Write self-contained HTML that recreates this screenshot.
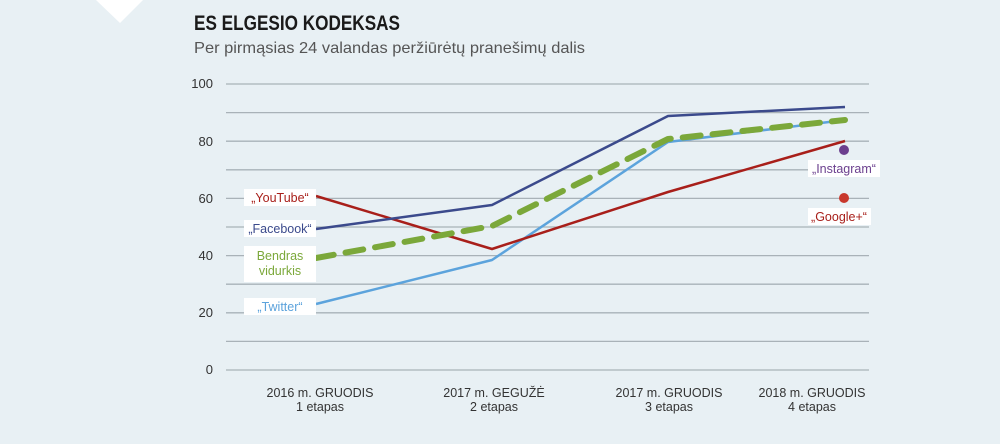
<!DOCTYPE html>
<html><head><meta charset="utf-8"><style>
html,body{margin:0;padding:0;background:#e8f0f4;}
svg{display:block;font-family:"Liberation Sans",sans-serif;}
</style></head><body>
<svg width="1000" height="444" viewBox="0 0 1000 444" xmlns="http://www.w3.org/2000/svg">
<rect width="1000" height="444" fill="#e8f0f4"/>
<polygon points="96,0 143,0 120,23" fill="#ffffff"/>
<text x="194" y="30" font-size="21" fill="#1a1a1a" textLength="206" lengthAdjust="spacingAndGlyphs" font-weight="bold">ES ELGESIO KODEKSAS</text>
<text x="194" y="53" font-size="16" fill="#555" textLength="391" lengthAdjust="spacingAndGlyphs">Per pirmąsias 24 valandas peržiūrėtų pranešimų dalis</text>
<g stroke="#a9b2b8" stroke-width="1.3">
<line x1="226" y1="84" x2="869" y2="84"/>
<line x1="226" y1="112.6" x2="869" y2="112.6"/>
<line x1="226" y1="141.2" x2="869" y2="141.2"/>
<line x1="226" y1="169.8" x2="869" y2="169.8"/>
<line x1="226" y1="198.4" x2="869" y2="198.4"/>
<line x1="226" y1="227" x2="869" y2="227"/>
<line x1="226" y1="255.6" x2="869" y2="255.6"/>
<line x1="226" y1="284.2" x2="869" y2="284.2"/>
<line x1="226" y1="312.8" x2="869" y2="312.8"/>
<line x1="226" y1="341.4" x2="869" y2="341.4"/>
<line x1="226" y1="370" x2="869" y2="370"/>
</g>
<g font-size="13" fill="#333" text-anchor="end">
<text x="213" y="88">100</text>
<text x="213" y="146">80</text>
<text x="213" y="203">60</text>
<text x="213" y="260">40</text>
<text x="213" y="317">20</text>
<text x="213" y="374">0</text>
</g>
<g font-size="12.5" fill="#333" text-anchor="middle">
<text x="320" y="397">2016 m. GRUODIS</text><text x="320" y="411">1 etapas</text>
<text x="494" y="397">2017 m. GEGUŽĖ</text><text x="494" y="411">2 etapas</text>
<text x="669" y="397">2017 m. GRUODIS</text><text x="669" y="411">3 etapas</text>
<text x="812" y="397">2018 m. GRUODIS</text><text x="812" y="411">4 etapas</text>
</g>
<g fill="none" stroke-linejoin="round">
<polyline points="316,304 492,260 668,142 845,120" stroke="#5ca3dc" stroke-width="2.5"/>
<polyline points="316,196 492,249 668,192 845,141" stroke="#a81f1a" stroke-width="2.5"/>
<polyline points="316,229 492,205 668,116 845,107" stroke="#3b4a8c" stroke-width="2.5"/>
<polyline points="316,258 492,226 668,139 845,120" stroke="#7ba83a" stroke-width="6" stroke-dasharray="18,12" stroke-linecap="round"/>
</g>
<circle cx="844" cy="150" r="5" fill="#6b3f8e"/>
<circle cx="844" cy="198" r="5" fill="#c8382c"/>
<g fill="#ffffff">
<rect x="244" y="189" width="72" height="17"/>
<rect x="244" y="220" width="72" height="17"/>
<rect x="244" y="246" width="72" height="36"/>
<rect x="244" y="298" width="72" height="17"/>
<rect x="808" y="160" width="72" height="17"/>
<rect x="808" y="208" width="63" height="17"/>
</g>
<g font-size="12.5" text-anchor="middle">
<text x="280" y="202" fill="#a81f1a">„YouTube“</text>
<text x="280" y="233" fill="#3b4a8c">„Facebook“</text>
<text x="280" y="260" fill="#7ba83a">Bendras</text>
<text x="280" y="275" fill="#7ba83a">vidurkis</text>
<text x="280" y="311" fill="#5ca3dc">„Twitter“</text>
<text x="844" y="173" fill="#6b3f8e">„Instagram“</text>
<text x="839" y="221" fill="#a81f1a">„Google+“</text>
</g>
</svg>
</body></html>
